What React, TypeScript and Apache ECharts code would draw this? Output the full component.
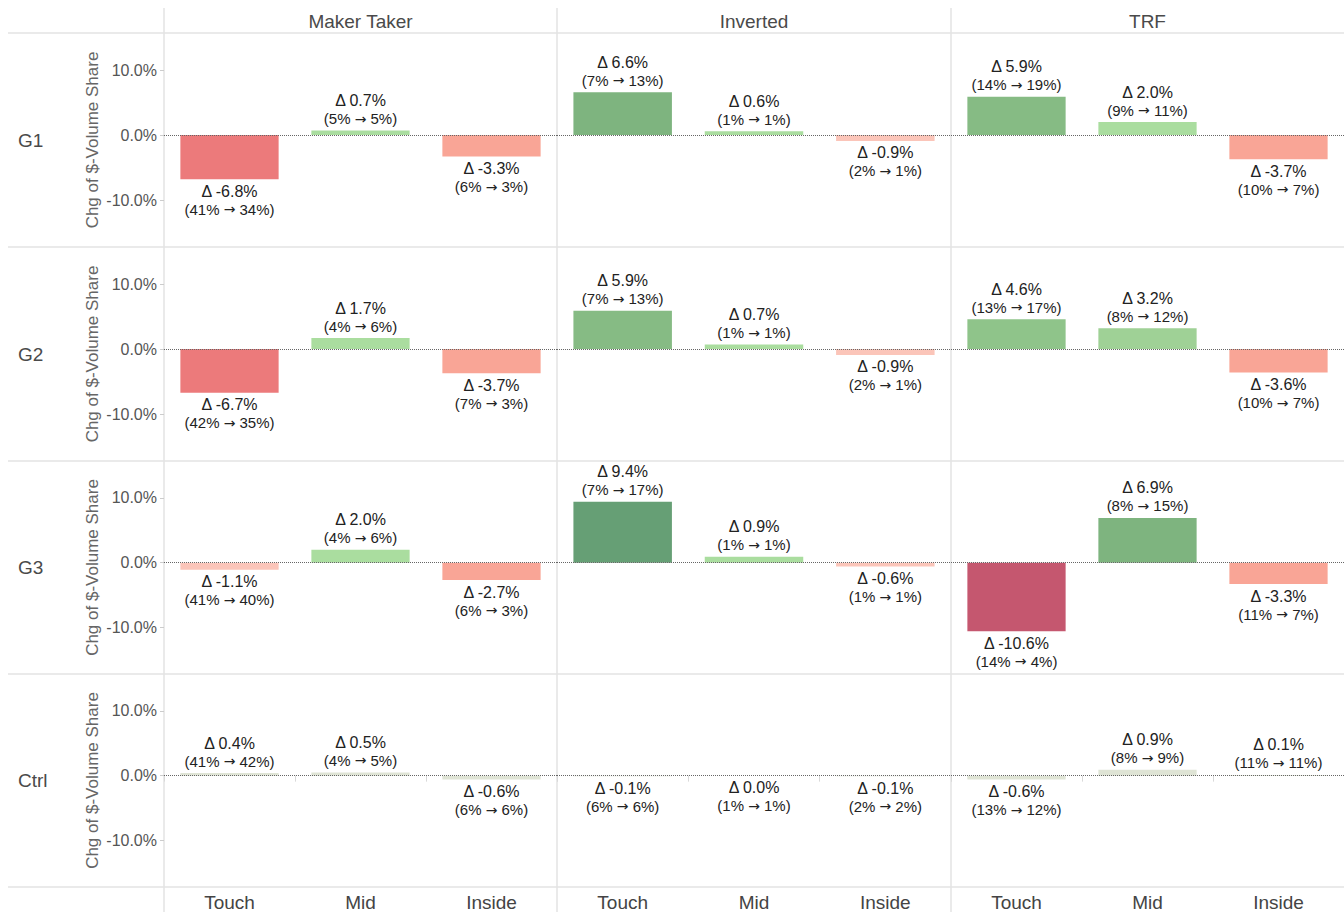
import React, { useEffect, useRef } from "react";
import * as echarts from "echarts";

const rows = ["G1", "G2", "G3", "Ctrl"];
const columns = ["Maker Taker", "Inverted", "TRF"];
const categories = ["Touch", "Mid", "Inside"];
const tickValues = [-10, 0, 10];

// per row: 9 values = [MakerTaker x3, Inverted x3, TRF x3]
const deltaG1 = [-6.8, 0.7, -3.3, 6.6, 0.6, -0.9, 5.9, 2.0, -3.7];
const beforeG1 = [41, 5, 6, 7, 1, 2, 14, 9, 10];
const afterG1 = [34, 5, 3, 13, 1, 1, 19, 11, 7];

const deltaG2 = [-6.7, 1.7, -3.7, 5.9, 0.7, -0.9, 4.6, 3.2, -3.6];
const beforeG2 = [42, 4, 7, 7, 1, 2, 13, 8, 10];
const afterG2 = [35, 6, 3, 13, 1, 1, 17, 12, 7];

const deltaG3 = [-1.1, 2.0, -2.7, 9.4, 0.9, -0.6, -10.6, 6.9, -3.3];
const beforeG3 = [41, 4, 6, 7, 1, 1, 14, 8, 11];
const afterG3 = [40, 6, 3, 17, 1, 1, 4, 15, 7];

const deltaCtrl = [0.4, 0.5, -0.6, -0.1, 0.0, -0.1, -0.6, 0.9, 0.1];
const beforeCtrl = [41, 4, 6, 6, 1, 2, 13, 8, 11];
const afterCtrl = [42, 5, 6, 6, 1, 2, 12, 9, 11];

const deltas = [deltaG1, deltaG2, deltaG3, deltaCtrl];
const befores = [beforeG1, beforeG2, beforeG3, beforeCtrl];
const afters = [afterG1, afterG2, afterG3, afterCtrl];

const FONT = "'Liberation Sans', Arial, sans-serif";

function barColor(rowName: string, v: number): string {
  if (rowName === "Ctrl") return "#dfe4d5";
  if (v <= -9) return "#c5576f";
  if (v <= -5) return "#ec7a7b";
  if (v <= -2) return "#f9a596";
  if (v < 0) return "#fbc5b9";
  if (v < 2.5) return "#aadd9f";
  if (v < 4) return "#9fd196";
  if (v < 5) return "#8fc48a";
  if (v < 6.3) return "#86bb84";
  if (v < 8) return "#7eb47f";
  return "#669f75";
}

export default function App() {
  const ref = useRef<HTMLDivElement>(null);

  useEffect(() => {
    if (!ref.current) return;
    const chart = echarts.init(ref.current, undefined, { renderer: "svg" });

    const colX = [164, 557, 951, 1344];
    const rowY = [33, 247, 461, 674, 887];
    const yMin = -17.2;
    const yMax = 15.7;

    const grids: any[] = [];
    const xAxes: any[] = [];
    const yAxes: any[] = [];
    const series: any[] = [];
    const graphics: any[] = [];

    rows.forEach((rowName, r) => {
      columns.forEach((colName, c) => {
        const idx = grids.length;
        grids.push({
          left: colX[c],
          top: rowY[r],
          width: colX[c + 1] - colX[c],
          height: rowY[r + 1] - rowY[r],
          containLabel: false,
        });
        const isBottom = r === rows.length - 1;
        xAxes.push({
          type: "category",
          gridIndex: idx,
          data: categories,
          axisLine: { show: false },
          axisTick: {
            show: isBottom,
            length: 6,
            lineStyle: { color: "#d9d9d9" },
          },
          axisLabel: {
            show: isBottom,
            fontSize: 19,
            color: "#444",
            fontFamily: FONT,
            margin: 6,
          },
          splitLine: { show: false },
        });
        const isLeft = c === 0;
        yAxes.push({
          type: "value",
          gridIndex: idx,
          min: yMin,
          max: yMax,
          show: isLeft,
          axisLine: { show: false },
          axisTick: {
            show: isLeft,
            length: 4,
            customValues: tickValues,
            lineStyle: { color: "#cccccc" },
          },
          axisLabel: {
            show: isLeft,
            customValues: tickValues,
            formatter: (v: number) => v.toFixed(1) + "%",
            fontSize: 16,
            color: "#555",
            fontFamily: FONT,
            margin: 7,
          },
          splitLine: { show: false },
          name: isLeft ? "Chg of $-Volume Share" : "",
          nameLocation: "middle",
          nameGap: 63,
          nameTextStyle: { fontSize: 17, color: "#666", fontFamily: FONT },
        });
        const vals = deltas[r].slice(c * 3, c * 3 + 3);
        const bef = befores[r].slice(c * 3, c * 3 + 3);
        const aft = afters[r].slice(c * 3, c * 3 + 3);
        series.push({
          type: "bar",
          xAxisIndex: idx,
          yAxisIndex: idx,
          barWidth: "75%",
          data: vals.map((v) => ({
            value: v,
            itemStyle: { color: barColor(rowName, v) },
          })),
          label: {
            show: true,
            position: "outside",
            distance: 3,
            formatter: (p: any) =>
              `{a|Δ ${vals[p.dataIndex].toFixed(1)}%}\n{b|(${bef[p.dataIndex]}% }{arr|→}{b| ${aft[p.dataIndex]}%)}`,
            rich: {
              a: { fontSize: 16, lineHeight: 18, color: "#222", fontFamily: FONT },
              b: { fontSize: 15, lineHeight: 18, color: "#222", fontFamily: FONT },
              arr: { fontSize: 14, lineHeight: 18, color: "#222", fontFamily: "'DejaVu Sans', sans-serif" },
            },
          },
          markLine: {
            silent: true,
            symbol: "none",
            label: { show: false },
            lineStyle: { type: "dotted", color: "#666", width: 1 },
            data: [{ yAxis: 0 }],
          },
        });
      });
    });

    // separators
    rowY.forEach((y) => {
      graphics.push({
        type: "line",
        shape: { x1: 8, y1: y, x2: 1344, y2: y },
        style: { stroke: "#e3e3e3", lineWidth: 1.5 },
        z: -1,
      });
    });
    colX.slice(0, 3).forEach((x) => {
      graphics.push({
        type: "line",
        shape: { x1: x, y1: 8, x2: x, y2: 912 },
        style: { stroke: "#e3e3e3", lineWidth: 1.5 },
        z: -1,
      });
    });
    // column headers
    columns.forEach((name, c) => {
      graphics.push({
        type: "text",
        x: (colX[c] + colX[c + 1]) / 2,
        y: 21,
        style: {
          text: name,
          fontSize: 19,
          fill: "#4a4a4a",
          fontFamily: FONT,
          align: "center",
          verticalAlign: "middle",
        },
      });
    });
    // row labels
    rows.forEach((name, r) => {
      graphics.push({
        type: "text",
        x: 18,
        y: (rowY[r] + rowY[r + 1]) / 2,
        style: {
          text: name,
          fontSize: 19,
          fill: "#4a4a4a",
          fontFamily: FONT,
          align: "left",
          verticalAlign: "middle",
        },
      });
    });

    chart.setOption({
      animation: false,
      backgroundColor: "#ffffff",
      grid: grids,
      xAxis: xAxes,
      yAxis: yAxes,
      series,
      graphic: graphics,
    });

    return () => chart.dispose();
  }, []);

  return (
    <div
      ref={ref}
      style={{ position: "absolute", left: 0, top: 0, width: 1344, height: 912 }}
    />
  );
}
